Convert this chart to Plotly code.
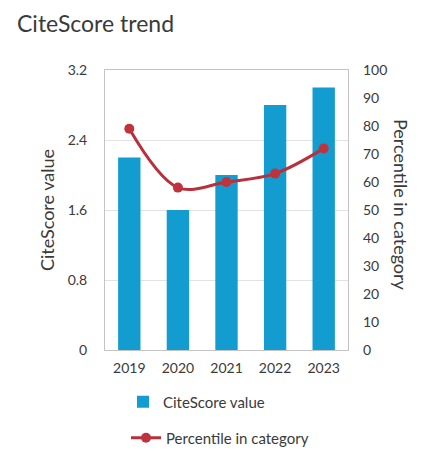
import plotly.graph_objects as go

years = ["2019", "2020", "2021", "2022", "2023"]
citescore = [2.2, 1.6, 2.0, 2.8, 3.0]
percentile = [79, 58, 60, 63, 72]

FONT = "Lato"
TXT = "#3a3a3a"
BAR = "#139ccf"
LINE = "#b8303c"

# page body has an 8px margin: work in window coordinates, convert to figure ones
OX, OY = 8, 8
WIN_W, WIN_H = 422, 451
W, H = WIN_W - OX, WIN_H - OY

# plot area in window coords
PX0, PX1, PY0, PY1 = 105, 348, 70, 350
L, R, T, B = PX0 - OX, WIN_W - PX1, PY0 - OY, WIN_H - PY1
PW = W - L - R
PH = H - T - B

def cx(x):
    return (x - OX) / W

def cy(y):
    return 1 - (y - OY) / H

fig = go.Figure()
fig.add_trace(go.Bar(
    x=years, y=citescore, name="CiteScore value",
    marker=dict(color=BAR, line=dict(width=0)),
    legend="legend", yaxis="y", showlegend=True,
))
fig.add_trace(go.Scatter(
    x=years, y=percentile, name="Percentile in category",
    mode="lines+markers",
    line=dict(color=LINE, width=3, shape="spline", smoothing=1.0),
    marker=dict(color="#c0333d", size=10),
    legend="legend2", yaxis="y2", showlegend=True,
))

fig.update_layout(
    template="none",
    width=W, height=H,
    showlegend=True,
    margin=dict(l=L, r=R, t=T, b=B, pad=0, autoexpand=False),
    paper_bgcolor="white", plot_bgcolor="white",
    font=dict(family=FONT, color=TXT, size=14),
    bargap=0.54,
    title=dict(text="CiteScore trend", xref="container", yref="container",
               x=cx(17), xanchor="left", y=cy(24), yanchor="middle",
               font=dict(size=23, color=TXT, family=FONT)),
    xaxis=dict(type="category", showgrid=False, showline=True, mirror=True,
               linecolor="#c4c4c4", linewidth=1, ticks="", tickfont=dict(size=14),
               ticklabelstandoff=5, automargin=False),
    yaxis=dict(range=[0, 3.2], dtick=0.8, tick0=0, showgrid=True, gridcolor="#e2e2e2",
               showline=True, mirror=True, linecolor="#c4c4c4", linewidth=1,
               zeroline=False, ticks="", tickfont=dict(size=14), ticklabelstandoff=14,
               automargin=False),
    yaxis2=dict(range=[0, 100], dtick=10, tick0=0, overlaying="y", side="right",
                showgrid=False, showline=False, zeroline=False, ticks="",
                tickfont=dict(size=14), ticklabelstandoff=14, automargin=False),
    legend=dict(x=cx(123), xanchor="left", xref="container",
                y=cy(402), yanchor="middle", yref="container",
                font=dict(size=15, color=TXT), bgcolor="rgba(0,0,0,0)", itemwidth=30,
                borderwidth=0),
    legend2=dict(x=cx(126), xanchor="left", xref="container",
                 y=cy(438), yanchor="middle", yref="container",
                 font=dict(size=15, color=TXT), bgcolor="rgba(0,0,0,0)", itemwidth=30,
                 borderwidth=0),
    annotations=[
        dict(text="CiteScore value", xref="paper", yref="paper",
             x=(47 - PX0) / PW, y=0.5, xanchor="center", yanchor="middle",
             textangle=-90, showarrow=False, font=dict(size=18, color=TXT)),
        dict(text="Percentile in category", xref="paper", yref="paper",
             x=(401 - PX0) / PW, y=(PY1 - 205) / PH, xanchor="center", yanchor="middle",
             textangle=90, showarrow=False, font=dict(size=18, color=TXT)),
    ],
)

fig.write_html("out.html")
